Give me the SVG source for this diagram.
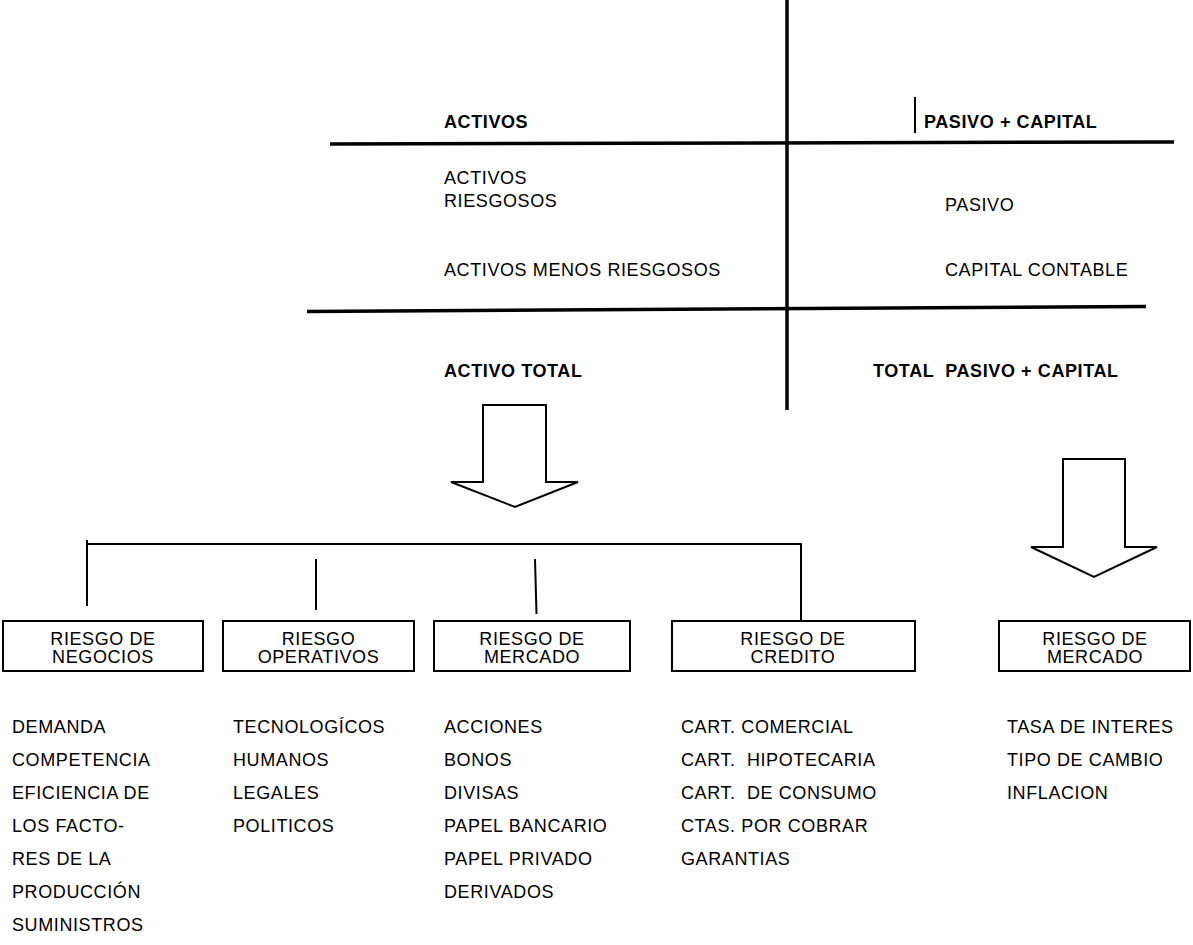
<svg xmlns="http://www.w3.org/2000/svg" width="1193" height="945" viewBox="0 0 1193 945">
<style>
text{font-family:"Liberation Sans",Arial,sans-serif;font-size:18px;letter-spacing:0.6px;fill:#000}
.b{font-weight:bold}
.m{text-anchor:middle}
.thick{stroke:#000;stroke-width:3.5;fill:none}
.thin{stroke:#000;stroke-width:2;fill:none}
.box{fill:#fff;stroke:#000;stroke-width:2}
.arrow{fill:#fff;stroke:#000;stroke-width:2;stroke-linejoin:miter}
</style>
<rect width="1193" height="945" fill="#fff"/>
<g id="balance">
<line class="thick" x1="787" y1="0" x2="787" y2="410"/>
<line class="thick" x1="330" y1="144" x2="1174" y2="142"/>
<line class="thick" x1="307" y1="311.5" x2="1146" y2="306.5"/>
<line class="thin" x1="915" y1="97" x2="915" y2="133"/>
<text class="b" x="444" y="128">ACTIVOS</text>
<text class="b" x="924" y="128">PASIVO + CAPITAL</text>
<text x="444" y="184">ACTIVOS</text>
<text x="444" y="207">RIESGOSOS</text>
<text x="945" y="211">PASIVO</text>
<text x="444" y="276">ACTIVOS MENOS RIESGOSOS</text>
<text x="945" y="276">CAPITAL CONTABLE</text>
<text class="b" x="444" y="377">ACTIVO TOTAL</text>
<text class="b" x="873" y="377" xml:space="preserve">TOTAL  PASIVO + CAPITAL</text>
</g>
<g id="arrow-activos">
<polygon class="arrow" points="483,405 546,405 546,482 578,482 515,507 451,482 483,482"/>
</g>
<g id="arrow-pasivo">
<polygon class="arrow" points="1063,459 1125,459 1125,547 1157,547 1094,577 1031,547 1063,547"/>
</g>
<g id="connectors">
<polyline class="thin" points="87,606 87,544 801,544 801,621"/>
<line class="thin" x1="87" y1="540" x2="87" y2="606"/>
<line class="thin" x1="316" y1="559" x2="316" y2="610"/>
<line class="thin" x1="535" y1="559" x2="536.5" y2="614"/>
</g>
<g id="riesgo-negocios">
<rect class="box" x="3" y="621" width="200" height="50"/>
<text class="m" x="103" y="645">RIESGO DE</text>
<text class="m" x="103" y="663">NEGOCIOS</text>
</g>
<g id="riesgo-operativos">
<rect class="box" x="223" y="621" width="191" height="50"/>
<text class="m" x="318.5" y="645">RIESGO</text>
<text class="m" x="318.5" y="663">OPERATIVOS</text>
</g>
<g id="riesgo-mercado-1">
<rect class="box" x="434" y="621" width="196" height="50"/>
<text class="m" x="532" y="645">RIESGO DE</text>
<text class="m" x="532" y="663">MERCADO</text>
</g>
<g id="riesgo-credito">
<rect class="box" x="672" y="621" width="243" height="50"/>
<text class="m" x="793" y="645">RIESGO DE</text>
<text class="m" x="793" y="663">CREDITO</text>
</g>
<g id="riesgo-mercado-2">
<rect class="box" x="999" y="621" width="191" height="50"/>
<text class="m" x="1095" y="645">RIESGO DE</text>
<text class="m" x="1095" y="663">MERCADO</text>
</g>
<g id="lista-negocios">
<text x="12" y="733">DEMANDA</text>
<text x="12" y="766">COMPETENCIA</text>
<text x="12" y="799">EFICIENCIA DE</text>
<text x="12" y="832">LOS FACTO-</text>
<text x="12" y="865">RES DE LA</text>
<text x="12" y="898">PRODUCCIÓN</text>
<text x="12" y="931">SUMINISTROS</text>
</g>
<g id="lista-operativos">
<text x="233" y="733">TECNOLOGÍCOS</text>
<text x="233" y="766">HUMANOS</text>
<text x="233" y="799">LEGALES</text>
<text x="233" y="832">POLITICOS</text>
</g>
<g id="lista-mercado-1">
<text x="444" y="733">ACCIONES</text>
<text x="444" y="766">BONOS</text>
<text x="444" y="799">DIVISAS</text>
<text x="444" y="832">PAPEL BANCARIO</text>
<text x="444" y="865">PAPEL PRIVADO</text>
<text x="444" y="898">DERIVADOS</text>
</g>
<g id="lista-credito">
<text x="681" y="733">CART. COMERCIAL</text>
<text x="681" y="766" xml:space="preserve">CART.  HIPOTECARIA</text>
<text x="681" y="799" xml:space="preserve">CART.  DE CONSUMO</text>
<text x="681" y="832">CTAS. POR COBRAR</text>
<text x="681" y="865">GARANTIAS</text>
</g>
<g id="lista-mercado-2">
<text x="1007" y="733">TASA DE INTERES</text>
<text x="1007" y="766">TIPO DE CAMBIO</text>
<text x="1007" y="799">INFLACION</text>
</g>
</svg>
